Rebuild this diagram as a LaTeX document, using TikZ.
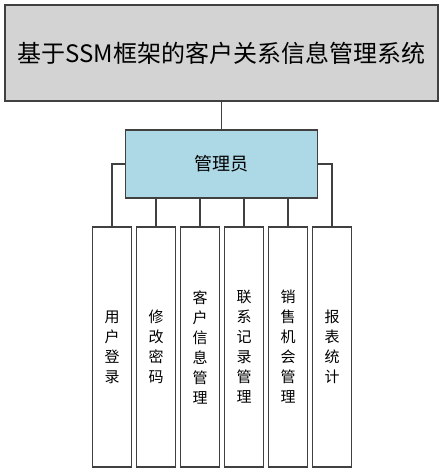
\documentclass[tikz,border=0pt]{standalone}
\usepackage{fontspec}
\setmainfont{Noto Sans CJK SC}
\usetikzlibrary{positioning}
\definecolor{sysgray}{RGB}{211,211,211}
\definecolor{mgrblue}{RGB}{173,216,230}
\begin{document}
\begin{tikzpicture}[x=1pt,y=-1pt,
		box/.style={draw=black!75,line width=1.2pt,inner sep=0pt},
		item/.style={box,fill=white,minimum width=38.5pt,minimum height=240pt,align=center,font=\fontsize{15}{20}\selectfont},
		link/.style={draw=black!75,line width=1.2pt}]
		\useasboundingbox (0,0) rectangle (443,473);

		\node[box,fill=sysgray,minimum width=433pt,minimum height=96pt,font=\fontsize{24}{28}\selectfont] (sys) at (221.5,53) {基于SSM框架的客户关系信息管理系统};
		\node[box,fill=mgrblue,minimum width=192pt,minimum height=68pt,font=\fontsize{18}{22}\selectfont] (mgr) at (221.5,164) {管理员};

		\node[item] (login) at (112,347) {用\\户\\登\\录};
		\node[item] (passwd) at (156,347) {修\\改\\密\\码};
		\node[item] (cust) at (200,347) {客\\户\\信\\息\\管\\理};
		\node[item] (contact) at (244,347) {联\\系\\记\\录\\管\\理};
		\node[item] (sale) at (288,347) {销\\售\\机\\会\\管\\理};
		\node[item] (report) at (332,347) {报\\表\\统\\计};

		\draw[link] (sys) -- (mgr);
		\draw[link] (mgr.west) -| (login.north);
		\draw[link] (mgr.east) -| (report.north);
		\draw[link] (mgr.south -| passwd.north) -- (passwd.north);
		\draw[link] (mgr.south -| cust.north) -- (cust.north);
		\draw[link] (mgr.south -| contact.north) -- (contact.north);
		\draw[link] (mgr.south -| sale.north) -- (sale.north);
	\end{tikzpicture}
\end{document}
